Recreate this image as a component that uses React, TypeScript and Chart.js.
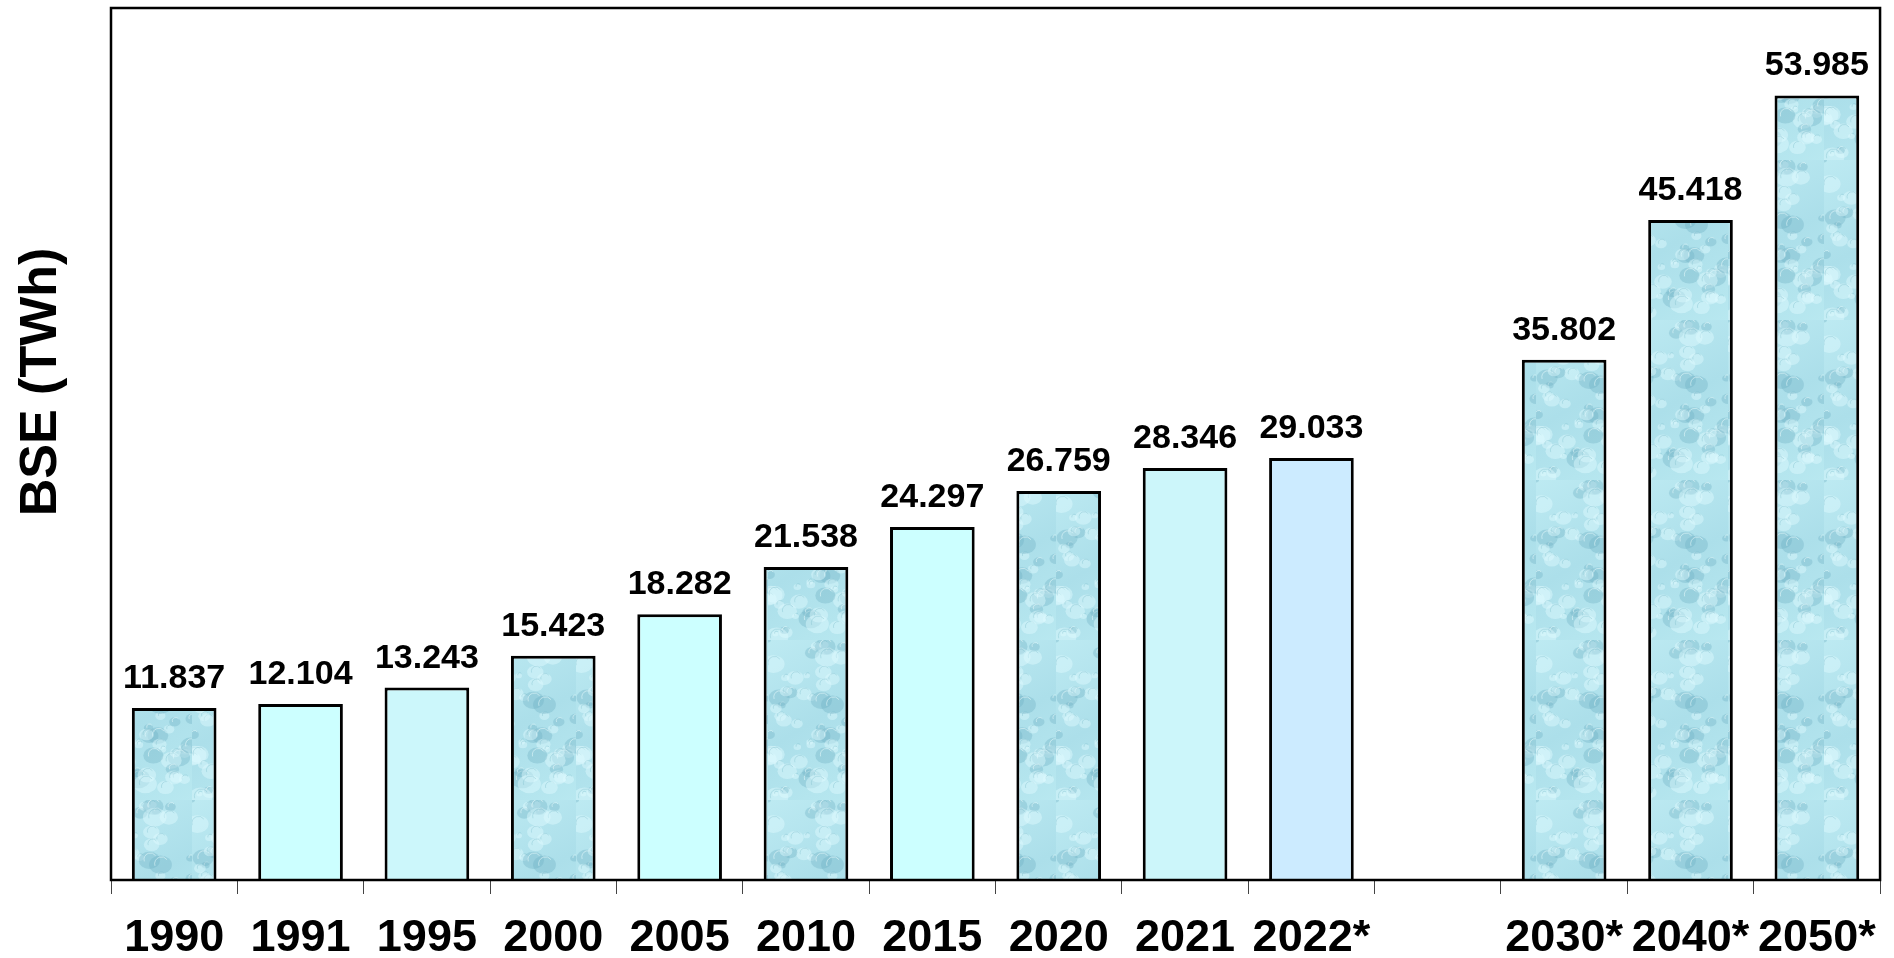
import React, { useEffect, useRef } from "react";
import { Chart, registerables } from "chart.js";

Chart.register(...registerables);

const categories = ["1990", "1991", "1995", "2000", "2005", "2010", "2015", "2020", "2021", "2022*", "", "2030*", "2040*", "2050*"];
const values: (number | null)[] = [11.837, 12.104, 13.243, 15.423, 18.282, 21.538, 24.297, 26.759, 28.346, 29.033, null, 35.802, 45.418, 53.985];
// "tex" = water texture fill, otherwise a solid colour
const fills = ["tex", "#CCFFFF", "#CCF7FB", "tex", "#CCFFFF", "tex", "#CCFFFF", "tex", "#CCF6FA", "#CCEBFF", "#FFFFFF", "tex", "tex", "tex"];
const yTitle = "BSE (TWh)";
const yMax = 60;

const FONT = '"Liberation Sans", Arial, sans-serif';

function makeWaterPattern(ctx: CanvasRenderingContext2D): CanvasPattern | string {
  const c = document.createElement("canvas");
  c.width = 96;
  c.height = 160;
  const g = c.getContext("2d");
  if (!g) return "#B0E2EC";
  const grad = g.createLinearGradient(0, 0, 96, 160);
  grad.addColorStop(0, "#BDEAF2");
  grad.addColorStop(0.5, "#ACDFEA");
  grad.addColorStop(1, "#B8E8F0");
  g.fillStyle = grad;
  g.fillRect(0, 0, 96, 160);
  // deterministic droplet-like blobs (texture only)
  for (let i = 0; i < 70; i++) {
    const x = (Math.sin(i * 12.9898) * 43758.5453) % 1;
    const y = (Math.sin(i * 78.233) * 12345.6789) % 1;
    const r = 3 + Math.abs((Math.sin(i * 3.7) * 999.1) % 1) * 9;
    const px = Math.abs(x) * 96;
    const py = Math.abs(y) * 160;
    const dark = i % 3 === 0;
    g.fillStyle = dark ? "rgba(110,175,195,0.35)" : "rgba(225,250,255,0.45)";
    g.beginPath();
    g.ellipse(px, py, r, r * 0.8, 0, 0, Math.PI * 2);
    g.fill();
    g.strokeStyle = dark ? "rgba(240,255,255,0.5)" : "rgba(120,185,200,0.35)";
    g.lineWidth = 1;
    g.beginPath();
    g.arc(px + 1, py - 1, r * 0.6, Math.PI * 0.9, Math.PI * 1.8);
    g.stroke();
  }
  return ctx.createPattern(c, "repeat") || "#B0E2EC";
}

const framePlugin = {
  id: "frameAndLabels",
  afterDatasetsDraw(chart: any) {
    const { ctx } = chart;
    const meta = chart.getDatasetMeta(0);
    ctx.save();
    ctx.fillStyle = "#000";
    ctx.font = `bold 34px ${FONT}`;
    ctx.textAlign = "center";
    ctx.textBaseline = "alphabetic";
    meta.data.forEach((bar: any, i: number) => {
      const v = values[i];
      if (v === null || v === undefined) return;
      ctx.fillText(v.toFixed(3), bar.x, bar.y - 20);
    });
    ctx.restore();
  },
  afterDraw(chart: any) {
    const { ctx, chartArea } = chart;
    ctx.save();
    ctx.strokeStyle = "#000";
    ctx.lineWidth = 2.5;
    ctx.strokeRect(chartArea.left, chartArea.top, chartArea.right - chartArea.left, chartArea.bottom - chartArea.top);
    // y-axis title
    ctx.fillStyle = "#000";
    ctx.font = `bold 52px ${FONT}`;
    ctx.textAlign = "center";
    ctx.textBaseline = "alphabetic";
    ctx.translate(56, 382);
    ctx.rotate(-Math.PI / 2);
    ctx.fillText(yTitle, 0, 0);
    ctx.restore();
  },
};

export default function App() {
  const ref = useRef<HTMLCanvasElement>(null);
  useEffect(() => {
    const canvas = ref.current;
    if (!canvas) return;
    const ctx = canvas.getContext("2d")!;
    const pattern = makeWaterPattern(ctx);
    const bg = fills.map((f) => (f === "tex" ? pattern : f));
    const chart = new Chart(canvas, {
      type: "bar",
      data: {
        labels: categories,
        datasets: [
          {
            data: values as any,
            backgroundColor: bg as any,
            borderColor: "#000",
            borderWidth: 3,
            categoryPercentage: 1,
            barPercentage: 0.67,
          },
        ],
      },
      options: {
        animation: false,
        responsive: true,
        maintainAspectRatio: false,
        layout: { padding: { left: 0, top: 8, right: 9, bottom: 0 } },
        plugins: { legend: { display: false }, tooltip: { enabled: false } },
        scales: {
          x: {
            offset: true,
            grid: { display: true, drawOnChartArea: false, drawTicks: true, tickLength: 14, color: "#444", lineWidth: 1, offset: true },
            border: { display: false },
            ticks: { color: "#000", font: { family: FONT, size: 45, weight: "bold" }, padding: 18, maxRotation: 0, autoSkip: false },
            afterFit: (s: any) => { s.height = 78; },
          },
          y: {
            min: 0,
            max: yMax,
            grid: { display: false },
            border: { display: false },
            ticks: { display: false },
            afterFit: (s: any) => { s.width = 111; },
          },
        },
      },
      plugins: [framePlugin],
    });
    return () => chart.destroy();
  }, []);
  return (
    <div style={{ position: "fixed", left: 0, top: 0, width: 1894, height: 958, background: "#fff" }}>
      <canvas ref={ref} />
    </div>
  );
}
